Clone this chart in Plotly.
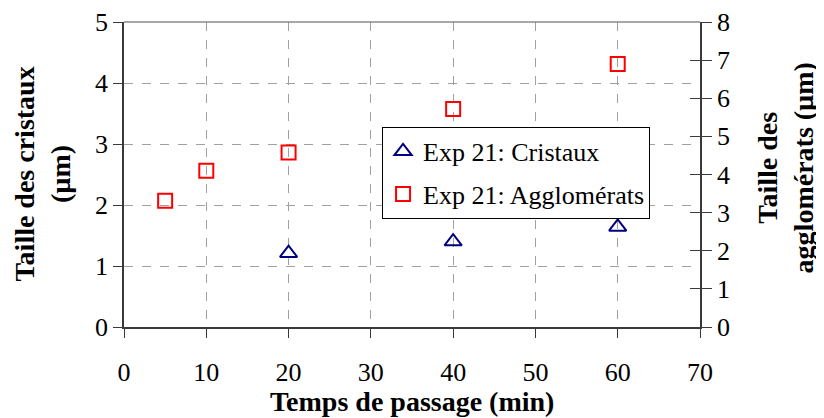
import plotly.graph_objects as go

# Data
time_cristaux = [20, 40, 60]
taille_cristaux = [1.21, 1.40, 1.64]
time_agglo = [5, 10, 20, 40, 60]
taille_agglo = [3.31, 4.10, 4.58, 5.72, 6.90]

x_ticks = [0, 10, 20, 30, 40, 50, 60, 70]
y_left_ticks = [0, 1, 2, 3, 4, 5]
y_right_ticks = [0, 1, 2, 3, 4, 5, 6, 7, 8]

FONT = "Liberation Serif"
AX = "#3a3a3a"
GRID = "#a0a0a0"

fig = go.Figure()
fig.add_trace(go.Scatter(
    x=time_cristaux, y=taille_cristaux, mode="markers",
    name="Exp 21: Cristaux", legendgroup="a",
    marker=dict(symbol="triangle-up-open", size=15, color="#000080",
                line=dict(width=2, color="#000080")),
    yaxis="y"))
fig.add_trace(go.Scatter(
    x=time_agglo, y=taille_agglo, mode="markers",
    name="Exp 21: Agglomérats", legendgroup="b",
    marker=dict(symbol="square-open", size=14, color="#FF0000",
                line=dict(width=2, color="#FF0000")),
    yaxis="y2"))
# empty helper trace so the inner tick marks of the right axis are drawn
fig.add_trace(go.Scatter(x=[], y=[], yaxis="y3", showlegend=False, hoverinfo="skip"))

fig.update_layout(
    width=816, height=410,
    margin=dict(l=116, r=124, t=14, b=91, autoexpand=False),
    paper_bgcolor="white", plot_bgcolor="white",
    font=dict(family=FONT, size=26, color="black"),
    showlegend=True,
    legend=dict(x=0.448, y=0.656, xanchor="left", yanchor="top",
                bgcolor="white", bordercolor="black", borderwidth=1,
                font=dict(family=FONT, size=26), tracegroupgap=6,
                itemwidth=30),
    xaxis=dict(range=[0, 70], tickvals=x_ticks, ticks="outside", ticklen=9,
               tickcolor=AX, showline=True, linecolor=AX, linewidth=1.5,
               showgrid=True, gridcolor=GRID, griddash="dash",
               gridwidth=1, zeroline=False, ticklabelstandoff=12,
               automargin=False, ticklabeloverflow="allow", tickfont=dict(size=26)),
    yaxis=dict(range=[0, 5], tickvals=y_left_ticks, ticks="outside", ticklen=9,
               tickcolor=AX, showline=True, linecolor=AX, linewidth=1.5,
               showgrid=True, gridcolor=GRID, griddash="dash", gridwidth=1,
               automargin=False, zeroline=False, ticklabeloverflow="allow",
               tickfont=dict(size=26)),
    yaxis2=dict(range=[0, 8], tickvals=y_right_ticks, overlaying="y", side="right",
                ticks="outside", ticklen=10, tickcolor=AX, showline=True,
                linecolor=AX, linewidth=1.5, showgrid=False, zeroline=False,
                automargin=False, ticklabeloverflow="allow", tickfont=dict(size=26)),
    yaxis3=dict(range=[0, 8], tickvals=y_right_ticks, overlaying="y", side="right",
                ticks="inside", ticklen=10, tickcolor=AX, showline=False,
                automargin=False, showticklabels=False, showgrid=False, zeroline=False),
    shapes=[dict(type="line", xref="paper", yref="paper", x0=0, x1=1, y0=1, y1=1,
                 line=dict(color="#8a8a8a", width=1.5))],
    annotations=[
        dict(text="<b>Temps de passage (min)</b>", xref="paper", yref="paper",
             x=0.5, y=0, yshift=-74, xanchor="center", yanchor="middle",
             showarrow=False, font=dict(size=28)),
        dict(text="<b>Taille des cristaux<br>(µm)</b>", xref="paper", yref="paper",
             x=0, xshift=-82, y=0.5, xanchor="center", yanchor="middle",
             textangle=-90, showarrow=False, font=dict(size=28)),
        dict(text="<b>Taille des<br>agglomérats (µm)</b>", xref="paper", yref="paper",
             x=1, xshift=85, y=0.52, xanchor="center", yanchor="middle",
             textangle=-90, showarrow=False, font=dict(size=28)),
    ],
)

fig.write_html("out.html")
